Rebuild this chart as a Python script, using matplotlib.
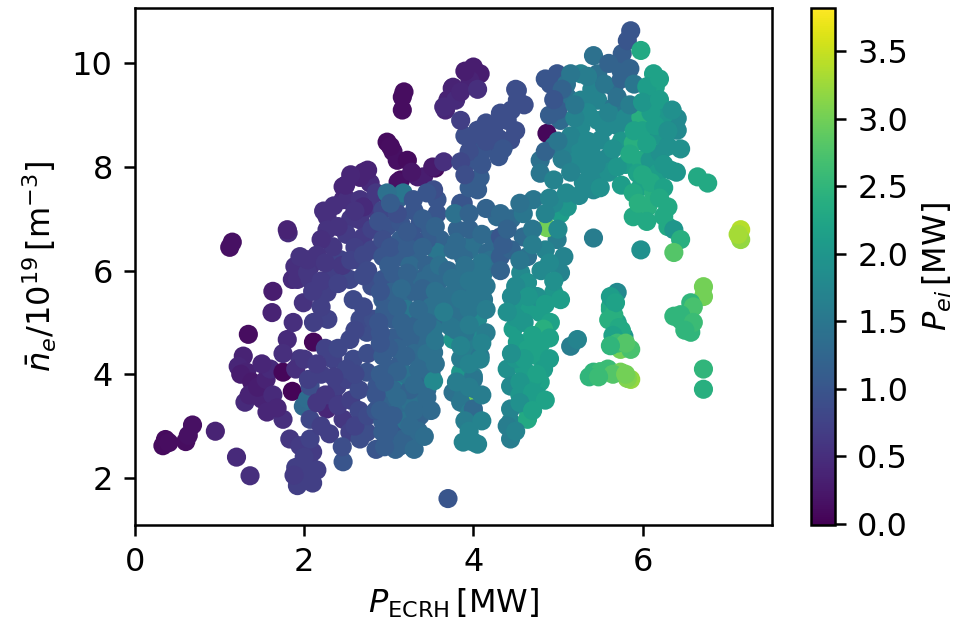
import numpy as np
import matplotlib
matplotlib.use("Agg")
import matplotlib.pyplot as plt
from matplotlib.colors import Normalize

# (P_ECRH [MW], n_e [1e19 m^-3], P_ei [MW]), by region
far_left = [(0.33,2.62,0.10),(0.36,2.74,0.10),(0.40,2.68,0.12),(0.60,2.70,0.12),(0.63,2.82,0.15),
            (0.68,3.02,0.15),(0.95,2.90,0.35),(1.20,2.40,0.45),(1.36,2.04,0.50),(1.12,6.45,0.15),
            (1.15,6.55,0.15)]

purple_left = [(1.34,4.77,0.12),(1.28,4.35,0.35),(1.22,4.15,0.40),(1.32,4.04,0.35),(1.25,4.00,0.30),
               (1.38,3.85,0.25),(1.30,3.46,0.45),(1.35,3.60,0.35),(1.50,3.52,0.35),(1.45,3.75,0.30),
               (1.55,3.90,0.35),(1.60,4.10,0.45),(1.50,4.20,0.40),(1.75,4.04,0.05),(1.86,3.67,0.02),
               (1.63,3.60,0.45),(1.56,3.27,0.40),(1.75,3.13,0.50),(1.68,3.35,0.40),(1.62,5.19,0.35),
               (1.63,5.60,0.30),(1.81,6.73,0.45),(1.86,5.83,0.45),(1.89,6.08,0.50),(2.01,6.20,0.50),
               (1.80,6.79,0.35),(1.80,4.67,0.45),(1.87,5.00,0.50),(1.99,5.38,0.55),(1.92,5.83,0.50),
               (2.07,6.08,0.55),(1.95,4.30,0.60),(1.90,4.10,0.50),(1.75,4.40,0.50)]

col_b = [(1.83,2.75,0.60),(1.95,2.62,0.65),(1.90,2.20,0.70),(1.99,2.12,0.70),(2.05,2.00,0.70),
         (1.95,1.92,0.70),(1.92,1.85,0.70),(2.10,1.90,0.70),(2.05,2.30,0.70),(2.10,2.50,0.65),
         (1.99,3.38,1.30),(2.04,3.52,1.35),(2.07,3.77,0.90),(2.07,3.13,0.80),(2.07,2.75,0.75),
         (2.05,3.90,0.70),(2.11,4.62,0.05),(2.00,4.29,0.60),(2.27,3.33,0.40),(2.34,3.58,0.60),
         (2.46,3.13,0.60),(2.54,2.88,0.70),(2.66,2.75,0.90),(2.74,2.88,0.90),(2.46,2.31,1.00),
         (2.39,3.77,0.70),(2.51,3.90,0.75),(2.34,4.29,0.75),(2.54,4.67,0.80),(2.74,4.81,0.90),
         (2.58,4.29,0.85),(2.74,4.04,0.95),(2.86,3.77,1.00),(2.20,3.00,0.70),(2.30,2.85,0.70),
         (2.20,4.00,0.70),(2.25,4.50,0.75),(2.40,4.50,0.80),(2.28,5.06,0.75),(2.11,5.00,0.70),
         (2.27,5.58,0.70),(2.34,5.96,0.70),(2.07,5.83,0.60),(2.04,5.96,0.60),(2.04,6.21,0.55),
         (1.95,6.27,0.55),(2.43,6.21,0.75),(2.63,6.21,0.80),(2.54,5.83,0.80),(2.58,5.44,0.85),
         (2.66,5.06,0.85),(2.82,5.06,0.90),(2.27,7.04,0.50),(2.27,6.79,0.55),(2.34,6.46,0.60),
         (2.20,6.60,0.50),(2.15,6.30,0.55),(2.46,7.37,0.45),(2.46,7.62,0.40),(2.51,7.37,0.50),
         (2.66,7.37,0.55),(2.66,6.98,0.60),(2.70,6.65,0.65),(2.70,7.90,0.35),(2.78,7.69,0.45),
         (2.66,7.80,0.35),(2.75,7.94,0.35),(2.49,7.65,0.40),(2.55,7.00,0.60),(2.50,6.70,0.65),
         (2.60,6.45,0.70),(2.80,6.40,0.80),(2.80,7.20,0.60),(2.20,5.30,0.70),(2.10,5.60,0.65),
         (2.45,6.10,0.60),(2.70,7.23,0.45),(2.23,7.15,0.50),(2.80,5.70,0.90),(2.70,5.90,0.85)]

fill_b = [(2.25,3.60,0.60),(2.40,3.40,0.65),(2.55,3.50,0.70),(2.65,3.30,0.80),(2.60,3.00,0.75),
          (2.75,3.20,0.85),(2.50,4.10,0.80),(2.65,3.70,0.85),(2.35,3.95,0.70),(2.15,3.45,0.60),
          (2.15,4.20,0.65),(2.45,2.60,0.90),(2.85,2.55,1.00),(2.75,4.40,0.90),(2.60,4.00,0.80),
          (2.60,4.85,0.80),(2.70,5.30,0.85),
          (2.20,5.80,0.65),(2.40,5.75,0.75),(2.25,6.15,0.60),(2.55,6.20,0.75),(2.70,6.30,0.80),
          (2.40,6.85,0.55),(2.60,7.15,0.55),(2.35,7.25,0.50),(2.80,6.80,0.75),(2.75,6.00,0.85),
          (2.85,7.50,0.60),(2.55,7.85,0.40),(2.00,2.40,0.70),(1.88,2.05,0.65),(2.15,2.15,0.70)]

purple_top = [(2.98,8.48,0.10),(3.10,8.13,0.15),(3.14,7.75,0.10),(3.11,7.71,0.15),(3.34,7.81,0.30),
              (3.41,7.81,0.30),(3.55,7.98,0.10),(3.52,8.00,0.25),(3.16,9.35,0.12),(3.16,9.10,0.12),
              (3.18,9.45,0.12),(3.75,9.52,0.35),(3.67,9.10,0.40),(3.70,9.30,0.35),(3.05,8.30,0.15),
              (3.22,8.13,0.10),(3.65,8.10,0.50),(3.02,8.40,0.12),(3.27,7.90,0.20)]

col_a = [(2.93,7.17,0.80),(3.10,7.37,1.20),(3.17,7.50,1.50),(3.29,7.37,1.00),(2.98,6.85,0.95),
         (3.14,6.92,1.00),(2.93,6.60,0.90),(3.14,6.60,1.10),(3.37,6.92,1.00),(3.57,7.10,1.00),
         (3.57,7.37,1.00),(3.53,7.56,0.90),(3.49,6.85,1.10),(3.61,6.60,1.20),(2.93,6.27,1.00),
         (3.14,6.27,1.10),(3.33,6.35,1.20),(3.57,6.35,1.50),(2.93,5.83,1.00),(3.14,5.83,1.20),
         (3.33,5.83,1.20),(3.61,5.83,1.30),(2.93,5.44,1.10),(3.17,5.44,1.30),(3.41,5.44,1.20),
         (3.64,5.50,1.30),(3.05,5.06,1.10),(3.29,5.06,1.20),(3.57,5.06,1.30),(2.93,4.35,1.10),
         (3.14,4.23,1.10),(3.14,3.85,1.70),(3.33,3.96,1.20),(2.98,3.46,1.20),(3.14,3.38,1.30),
         (3.25,3.46,1.40),(3.37,3.46,1.40),(2.93,3.08,1.10),(3.14,2.94,1.00),(3.14,2.62,1.20),
         (3.25,2.69,1.30),(3.02,2.75,1.10),(3.33,3.13,0.30),(3.53,4.42,1.40),(3.53,4.87,1.50),
         (3.40,4.60,1.30),(3.25,4.70,1.20),(3.05,4.70,1.10),(2.90,4.80,1.00),(3.40,4.20,1.30),
         (3.50,4.00,1.30),(2.90,4.00,1.10),(3.05,3.70,1.30),(3.25,3.70,1.20),(3.45,3.70,1.30),
         (3.00,6.10,1.10),(3.25,6.10,1.30),(3.45,6.10,1.20),(3.05,5.60,1.20),(3.30,5.60,1.20),
         (3.50,5.30,1.40),(3.20,5.25,1.50),(2.95,5.20,1.10),(3.45,6.60,1.10),(3.30,6.60,1.00),
         (3.30,7.15,1.00),(3.10,7.10,0.90),(3.17,2.75,1.20),(2.93,2.88,1.10),(3.37,3.20,1.20),
         (3.20,3.10,1.40),(3.35,2.90,1.30),(3.05,3.20,1.10),(2.85,3.30,1.00),(2.85,3.60,1.00),
         (3.50,3.30,1.30),(3.53,3.87,1.80),(2.98,7.50,1.40),(3.10,4.50,1.20),(3.30,4.40,1.30),
         (3.00,4.10,1.10),(3.20,4.00,1.40),(3.45,5.00,1.30),(3.15,5.00,1.20),(3.40,5.80,1.30)]

fill_a = [(2.88,6.95,0.95),(3.02,6.45,1.00),(3.22,6.45,1.10),(3.40,6.45,1.20),(3.22,6.75,1.05),
          (3.02,7.30,1.10),(3.40,7.00,1.10),(3.45,7.50,1.00),(3.05,5.95,1.10),(3.22,5.95,1.20),
          (3.50,5.95,1.30),(3.15,5.65,1.30),(3.40,5.65,1.20),(3.55,5.60,1.40),(2.90,5.60,1.00),
          (3.10,5.30,1.20),(3.35,5.25,1.30),(2.88,5.00,1.00),(3.20,4.85,1.20),(3.40,4.90,1.30),
          (3.00,4.50,1.10),(3.20,4.35,1.20),(3.45,4.40,1.40),(2.90,4.60,1.00),(3.35,4.10,1.30),
          (3.10,4.05,1.20),(2.95,3.85,1.10),(3.30,3.80,1.30),(3.45,3.55,1.30),(3.10,3.55,1.30),
          (2.90,3.30,1.10),(3.30,3.30,1.30),(3.00,2.95,1.10),(3.25,3.00,1.30),(3.08,2.55,1.20),
          (3.30,2.55,1.30),(3.42,2.80,1.35),(2.95,2.60,1.10),(3.55,4.20,1.40),(3.55,4.65,1.50),
          (3.60,5.30,1.40),(3.60,6.10,1.40),(3.55,6.85,1.20)]

col_c = [(3.81,6.79,1.20),(3.88,7.30,1.00),(4.05,7.56,1.10),(3.85,7.30,1.00),(3.78,7.10,1.40),
         (4.28,7.04,1.30),(4.24,6.60,1.30),(3.76,6.40,1.30),(3.96,6.40,1.40),(3.88,6.27,1.30),
         (4.00,6.54,1.40),(4.17,6.35,1.30),(4.12,5.96,1.50),(3.88,5.96,1.40),(4.00,5.96,1.50),
         (3.93,5.58,1.40),(4.12,5.44,1.50),(4.00,5.50,1.50),(4.05,5.12,1.60),(3.81,5.06,1.40),
         (4.05,5.06,1.80),(4.00,4.73,1.80),(3.76,4.67,2.00),(3.93,4.54,1.60),(4.08,4.35,1.50),
         (3.85,4.04,2.00),(4.08,4.29,1.70),(4.00,3.96,1.60),(3.73,4.92,1.50),(4.00,3.90,1.50),
         (3.76,3.65,1.40),(3.88,3.58,1.50),(3.96,3.58,1.50),(3.93,3.38,3.00),(4.00,3.27,1.70),
         (3.85,3.46,1.50),(3.96,3.27,1.60),(4.00,3.33,1.30),(3.88,2.69,1.70),(4.00,2.69,1.70),
         (4.05,2.65,1.70),(3.85,4.30,1.60),(3.90,4.80,1.50),(3.80,5.30,1.40),(3.80,5.70,1.40),
         (4.15,4.80,1.60),(4.15,5.70,1.50),(4.20,6.20,1.40),(3.70,6.00,1.30),(3.70,5.50,1.40),
         (3.65,5.20,1.60),(3.70,1.60,1.00)]

fill_c = [(3.80,6.55,1.30),(3.95,6.80,1.20),(4.10,6.70,1.30),(4.15,7.20,1.20),(3.95,7.10,1.20),
          (4.10,6.15,1.50),(3.90,6.10,1.40),(3.75,5.85,1.40),(3.95,5.80,1.50),(4.10,5.75,1.50),
          (3.85,5.45,1.50),(3.95,5.25,1.50),(4.15,5.25,1.60),(3.80,4.85,1.50),(3.95,4.95,1.60),
          (4.10,4.60,1.70),(3.85,4.55,1.70),(3.95,4.20,1.70),(3.80,3.85,1.60),(3.95,3.75,1.60),
          (4.10,3.60,1.60),(3.90,3.10,1.60),(4.10,3.10,1.70),(3.95,2.90,1.70)]

col_d = [(4.32,6.65,1.00),(4.32,6.27,1.10),(4.32,6.00,1.20),(4.59,6.65,1.30),(4.64,6.27,1.40),
         (4.99,6.60,1.60),(5.07,6.27,1.70),(5.03,5.96,1.70),(4.56,5.96,1.80),(4.64,5.77,1.90),
         (4.52,5.38,2.00),(4.67,5.25,2.10),(4.79,5.19,2.10),(4.95,5.58,2.00),(5.03,5.44,2.10),
         (4.91,5.00,2.20),(4.83,4.87,2.40),(4.47,4.87,2.10),(4.52,4.62,2.10),(4.64,4.48,2.20),
         (4.76,4.35,2.20),(4.83,4.10,2.10),(4.79,3.85,2.20),(4.76,3.58,2.10),(4.64,3.33,2.20),
         (4.44,3.33,1.70),(4.44,3.08,1.70),(4.40,4.10,1.90),(4.44,3.77,1.80),(4.40,3.00,1.60),
         (4.44,2.75,1.60),(4.64,3.13,2.30),(4.55,3.60,2.00),(4.60,4.10,2.10),(4.60,5.00,2.00),
         (4.75,5.50,1.90),(4.80,6.00,1.80),(4.85,6.40,1.70),(4.45,6.40,1.20),(4.45,7.00,1.30),
         (4.32,7.10,1.30),(4.59,7.10,1.50),(4.71,7.37,1.50),(4.87,6.83,3.00),(5.03,7.10,2.10),
         (5.11,7.23,2.00),(4.95,7.30,1.80),(4.70,6.80,1.50),(4.80,4.60,2.20),(4.35,6.50,1.10),
         (5.15,4.54,1.60),(5.23,4.67,1.70),(4.50,4.30,2.00),(4.70,3.90,2.10)]

fill_d = [(4.50,5.70,1.80),(4.65,5.50,2.00),(4.85,5.35,2.10),(4.95,5.80,1.90),(4.50,5.10,2.00),
          (4.70,4.75,2.20),(4.90,4.70,2.20),(4.60,4.30,2.10),(4.75,4.00,2.20),(4.90,4.30,2.10),
          (4.55,3.85,2.00),(4.70,3.65,2.10),(4.85,3.50,2.20),(4.55,3.45,1.90),(4.70,3.30,2.20),
          (4.50,2.90,1.70),(4.55,6.20,1.50),(4.70,6.50,1.60),(4.90,6.15,1.80),(5.00,6.80,1.80),
          (4.55,7.30,1.40),(4.85,7.10,1.70),(4.40,6.80,1.20),(4.45,5.50,1.80),(4.40,5.20,1.90),
          (4.45,4.40,1.90)]

upper = [(4.00,9.93,0.30),(4.08,9.80,0.30),(3.96,9.67,0.35),(3.76,9.54,0.35),(3.79,9.29,0.45),
         (3.65,9.16,0.45),(4.05,8.71,0.90),(4.20,8.65,0.90),(4.00,8.46,0.90),(4.00,8.13,1.00),
         (4.24,8.38,0.90),(4.44,8.52,0.90),(4.32,9.04,0.90),(4.40,8.90,0.90),(4.52,9.48,0.90),
         (4.52,9.29,0.90),(4.10,8.30,1.00),(4.30,8.20,1.00),(4.15,8.85,0.90),(3.90,8.60,0.90),
         (4.08,7.80,1.10),(3.95,7.60,1.10),
         (4.99,9.80,1.00),(4.91,9.60,1.00),(5.11,9.35,1.40),(5.03,8.90,1.30),(4.87,8.65,0.05),
         (4.79,8.13,1.40),(4.79,7.88,1.50),(4.95,7.75,1.70),(4.95,8.40,1.50),(5.11,8.38,1.70),
         (5.27,8.33,1.80),(5.35,8.00,1.80),(5.47,7.75,1.80),(5.42,7.56,1.80),(5.27,8.77,1.80),
         (5.47,8.90,1.80),(5.50,8.52,1.80),(5.27,9.29,1.70),(5.47,9.29,1.70),(5.66,9.16,1.50),
         (5.27,9.80,1.70),(5.47,9.80,1.40),(5.66,9.54,1.30),(5.74,9.88,1.20),(5.76,10.19,1.10),
         (5.42,10.15,1.40),(5.82,10.44,1.00),(5.86,10.63,1.00),(5.98,10.25,2.30),(5.20,8.10,1.80),
         (5.60,8.20,1.80),(5.70,8.80,1.80),(5.35,9.05,1.80),(5.10,9.60,1.40),(5.60,7.90,1.90),
         (5.30,7.70,1.80),(4.85,8.30,1.20),(5.00,9.10,1.10)]

fill_upper = [(3.85,9.45,0.40),(3.90,9.85,0.30),(4.05,9.50,0.50),(3.85,8.90,0.70),(3.95,8.30,0.90),
              (4.15,8.50,0.90),(4.30,8.55,0.90),(4.35,8.35,1.00),(4.25,8.80,0.90),(4.50,8.70,0.90),
              (4.45,9.10,0.90),(4.60,9.20,0.90),(4.50,9.50,0.90),(4.10,8.05,1.00),(3.85,8.10,0.80),
              (3.90,7.85,0.90),
              (5.05,8.15,1.60),(5.15,8.60,1.70),(5.20,8.95,1.70),(5.35,8.50,1.80),(5.40,8.25,1.80),
              (5.55,8.75,1.80),(5.60,9.05,1.70),(5.40,9.50,1.70),(5.55,9.60,1.50),(5.35,9.75,1.60),
              (5.15,9.80,1.50),(5.05,9.50,1.20),(5.20,9.20,1.50),(5.70,9.35,1.40),(5.75,9.70,1.20),
              (5.85,9.90,1.20),(5.60,10.00,1.20),(5.80,8.95,1.80),(5.75,8.50,2.00),(5.65,8.35,1.90),
              (5.45,8.05,1.80),(5.50,7.60,1.90),(5.75,7.65,2.10),(5.80,8.05,2.10),(5.70,8.00,2.00),
              (5.15,7.90,1.70),(5.00,8.50,1.50),(4.90,9.00,1.10),(4.95,9.30,1.00),(4.85,9.70,1.00),
              (4.90,7.40,1.70),(5.10,7.50,1.80),(5.25,7.45,1.80)]

green_top = [(6.13,9.80,2.20),(6.15,9.54,2.20),(6.13,9.29,2.00),(5.98,8.96,2.40),(6.41,8.94,1.80),
             (6.41,8.71,1.80),(5.89,8.46,2.40),(5.98,8.13,2.30),(5.94,7.88,2.20),(6.09,8.13,2.00),
             (6.18,7.88,2.10),(6.21,8.27,1.90),(6.33,7.94,2.00),(5.98,7.62,2.20),(6.13,7.50,2.40),
             (5.89,7.50,2.30),(6.06,7.23,2.40),(5.89,7.04,2.30),(6.30,7.23,2.30),(6.65,7.81,2.30),
             (6.77,7.69,2.30),(6.00,8.70,2.20),(6.20,8.60,2.00),(6.25,9.00,2.00),(6.10,9.05,2.10),
             (5.85,9.20,1.60),(5.90,9.60,1.50),(6.30,8.40,1.90),(6.30,6.85,2.30),
             (6.05,9.55,2.10),(6.20,9.70,2.20),(6.00,9.25,2.00),(6.20,9.30,2.10),(6.05,8.45,2.20),
             (6.15,8.80,2.10),(6.30,8.70,1.90),(6.35,9.10,1.90),(6.00,7.85,2.30),(6.10,7.70,2.30),
             (6.25,7.60,2.20),(5.95,7.30,2.40),(6.20,7.40,2.30),(6.40,7.90,2.00),(6.45,8.35,1.90),
             (5.85,8.25,2.30),(5.90,8.70,2.20),(6.25,8.05,2.00),(6.05,6.95,2.30),(6.25,7.05,2.30)]

right_isolated = [(7.16,6.79,3.40),(7.16,6.60,3.20),(7.13,6.70,3.30),(6.37,6.79,2.00),(6.45,6.60,2.40),
                  (6.37,6.35,2.80),(5.98,6.40,1.90),(5.42,6.63,1.60)]

col_f = [(5.70,5.58,1.80),(5.62,5.31,2.30),(5.62,5.25,2.30),(5.70,5.00,2.20),(5.78,4.73,2.00),
         (5.74,4.48,3.00),(5.86,4.48,2.70),(5.42,4.04,2.50),(5.59,4.10,2.60),(5.74,4.04,3.00),
         (5.86,3.90,3.20),(5.50,4.05,2.60),(5.66,5.15,2.40),(5.75,4.85,2.30),(5.65,5.45,2.00),
         (5.82,3.92,3.10),(5.37,3.95,2.50),
         (5.62,5.50,2.10),(5.68,5.38,2.20),(5.60,5.05,2.40),(5.72,4.90,2.30),(5.65,4.75,2.20),
         (5.70,4.60,2.60),(5.80,4.60,2.80),(5.62,4.55,2.50),(5.65,4.00,2.80),(5.48,3.95,2.60),
         (5.80,4.00,3.00)]

col_g = [(6.72,5.69,3.00),(6.72,5.50,3.00),(6.57,5.38,2.50),(6.37,5.12,2.50),(6.53,5.12,2.60),
         (6.53,4.92,2.60),(6.57,4.81,2.50),(6.72,4.10,2.50),(6.72,3.71,2.40),(6.45,5.05,2.50),
         (6.60,5.30,2.70),(6.45,5.15,2.50),(6.60,5.00,2.60),(6.50,4.85,2.50)]

groups = [far_left, purple_left, col_b, fill_b, purple_top, col_a, fill_a, col_c, fill_c,
          col_d, fill_d, upper, fill_upper, green_top, right_isolated, col_f, col_g]
data = np.array([p for g in groups for p in g])
p_ecrh, n_e, p_ei = data[:, 0], data[:, 1], data[:, 2]

FS = 23
LW = 1.8
fig = plt.figure(figsize=(9.54, 6.18), dpi=100)
ax = fig.add_axes([0.1415, 0.1505, 0.6677, 0.8366])
cax = fig.add_axes([0.8501, 0.1505, 0.0252, 0.8366])

sc = ax.scatter(p_ecrh, n_e, c=p_ei, cmap="viridis",
                norm=Normalize(vmin=-0.01, vmax=3.82), s=190, linewidths=0)
ax.set_xlim(0, 7.53)
ax.set_ylim(1.09, 11.07)
ax.set_xticks([0, 2, 4, 6])
ax.set_yticks([2, 4, 6, 8, 10])
ax.tick_params(labelsize=FS, length=8, width=LW, pad=8)
for sp in ax.spines.values():
    sp.set_linewidth(LW)
ax.set_xlabel(r"$P_{\mathrm{ECRH}}\,[\mathrm{MW}]$", fontsize=FS, labelpad=6)
ax.set_ylabel(r"$\bar{n}_e/10^{19}\,[\mathrm{m}^{-3}]$", fontsize=FS, labelpad=9)

cb = fig.colorbar(sc, cax=cax)
cb.set_ticks([0.0, 0.5, 1.0, 1.5, 2.0, 2.5, 3.0, 3.5])
cb.ax.tick_params(labelsize=FS, length=8, width=LW, pad=8)
cb.outline.set_linewidth(LW)
cb.set_label(r"$P_{ei}\,[\mathrm{MW}]$", fontsize=FS, labelpad=9)

fig.savefig("out.png", dpi=100)
